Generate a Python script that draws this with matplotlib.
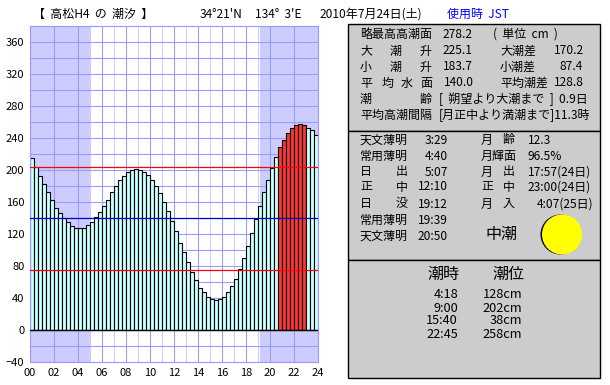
import matplotlib
matplotlib.use("Agg")
import matplotlib.pyplot as plt
from matplotlib.patches import Rectangle, Circle
import numpy as np

plt.rcParams['font.family'] = ['Noto Sans CJK JP', 'DejaVu Sans']

W, H = 610, 385
levels = [215, 204, 193, 182, 172, 162, 153, 146, 140, 135, 130, 128, 127, 128, 131, 135,
          141, 147, 155, 163, 172, 180, 187, 192, 197, 200, 201, 200, 197, 194, 187, 180,
          171, 160, 149, 136, 124, 109, 97, 85, 72, 62, 53, 47, 41, 39, 37, 39,
          41, 47, 55, 64, 76, 90, 105, 121, 139, 155, 172, 187, 202, 216,
          229, 237, 246, 252, 256, 258, 256, 253, 250, 244]
red_start, red_end = 62, 68
hlines_red = [203.5, 75]
hline_blue = 140
night = [(0, 5 + 7/60), (19 + 12/60, 24)]
xticks = list(range(0, 25, 2))
yticks = list(range(-40, 361, 40))

header = [(33, "【  高松H4  の  潮汐  】", 'black'), (200, "34°21'N", 'black'), (255, "134°  3'E", 'black'),
          (320, "2010年7月24日(土)", 'black'), (447, "使用時  JST", 'blue')]
panel1 = [(360, 34, "略最高高潮面"), (443, 34, "278.2"), (493, 34, "(  単位  cm  )"),
          (360, 51, "大"), (390, 51, "潮"), (420, 51, "升"), (443, 51, "225.1"), (500, 51, "大潮差"), (554, 51, "170.2"),
          (360, 67, "小"), (390, 67, "潮"), (420, 67, "升"), (443, 67, "183.7"), (500, 67, "小潮差"), (560, 67, "87.4"),
          (360, 83, "平"), (382, 83, "均"), (401, 83, "水"), (420, 83, "面"), (444, 83, "140.0"), (500, 83, "平均潮差"), (554, 83, "128.8"),
          (360, 99, "潮"), (420, 99, "齢"), (439, 99, "[  朔望より大潮まで  ]  0.9日"),
          (360, 115, "平均高潮間隔"), (439, 115, "[月正中より満潮まで]11.3時")]
panel2_l = ["天文薄明", "常用薄明", ("日", "出"), ("正", "中"), ("日", "没"), "常用薄明", "天文薄明"]
panel2_t = ["3:29", "4:40", "5:07", "12:10", "19:12", "19:39", "20:50"]
panel2_r = [("月", "齢"), "月輝面", ("月", "出"), ("正", "中"), ("月", "入")]
panel2_v = ["12.3", "96.5%", "17:57(24日)", "23:00(24日)", "4:07(25日)"]
rows2 = [140, 156, 172, 187, 204, 220, 236]
tide_time = ["4:18", "9:00", "15:40", "22:45"]
tide_level = ["128cm", "202cm", "38cm", "258cm"]
rows3 = [294, 308, 321, 334]

fig = plt.figure(figsize=(W/100, H/100), dpi=100, facecolor='white')

# chart axes: pixels x 30..318, y 26..362
ax = fig.add_axes([30/W, 1 - 362/H, 288/W, 336/H])
ax.set_xlim(0, 24)
ax.set_ylim(-40, 380)
ax.set_facecolor('white')
for a, b in night:
    ax.axvspan(a, b, color='#ccccff', lw=0, zorder=0.5)
for h in range(0, 25):
    ax.axvline(h, color='#9999ff' if h % 2 == 0 else '#ccccff', lw=0.75, zorder=1)
for v in range(-40, 381, 20):
    ax.axhline(v, color='#9999ff', lw=0.75, zorder=1)
x = np.arange(len(levels)) / 3
colors = ['#ff3333' if red_start <= i <= red_end else '#ccffff' for i in range(len(levels))]
ax.bar(x, levels, width=1/3, align='edge', color=colors, edgecolor='black', linewidth=0.8, zorder=2)
for v in hlines_red:
    ax.axhline(v, color='#ff0000', lw=0.9, zorder=3)
ax.axhline(hline_blue, color='#0000bb', lw=0.9, zorder=3)
ax.axhline(0, color='black', lw=1.0, zorder=3)
for s in ax.spines.values():
    s.set_color('#9999ff')
    s.set_linewidth(0.8)
ax.set_xticks(xticks)
ax.set_xticklabels([f"{t:02d}" for t in xticks])
ax.set_yticks(yticks)
ax.tick_params(length=0, labelsize=8, pad=4)

# overlay in pixel coordinates
ov = fig.add_axes([0, 0, 1, 1], facecolor='none')
ov.set_xlim(0, W)
ov.set_ylim(H, 0)
ov.axis('off')
FS = 8.64

def t(px, py, s, ha='left', size=FS, color='black'):
    ov.text(px, py, s, ha=ha, va='center', fontsize=size, color=color)

for px, s, c in header:
    t(px, 14, s, color=c)
for y0, y1 in [(24, 130.5), (130.5, 260), (260, 377.5)]:
    ov.add_patch(Rectangle((347.5, y0), 252.5, y1 - y0, fc='#cccccc', ec='black', lw=1))
for px, py, s in panel1:
    t(px, py, s)
for py, l, v in zip(rows2, panel2_l, panel2_t):
    if isinstance(l, tuple):
        t(360, py, l[0]); t(396, py, l[1])
    else:
        t(360, py, l)
    t(448, py, v, ha='right')
for py, l, v in zip(rows2, panel2_r, panel2_v):
    if isinstance(l, tuple):
        t(481, py, l[0]); t(503, py, l[1])
    else:
        t(481, py, l)
    t(593 if v.startswith("4:") else 528, py, v, ha='right' if v.startswith("4:") else 'left')
t(485, 234, "中潮", size=11.5)
ov.add_patch(Circle((560.5, 234.5), 20, fc='black', ec='none'))
ov.add_patch(Circle((562, 234.5), 20, fc='#ffff00', ec='none'))
t(443, 274, "潮時", ha='center', size=11.5)
t(508, 274, "潮位", ha='center', size=11.5)
for py, a, b in zip(rows3, tide_time, tide_level):
    t(458, py, a, ha='right', size=9.2)
    t(522, py, b, ha='right', size=9.2)

fig.savefig('out.png', dpi=100)
